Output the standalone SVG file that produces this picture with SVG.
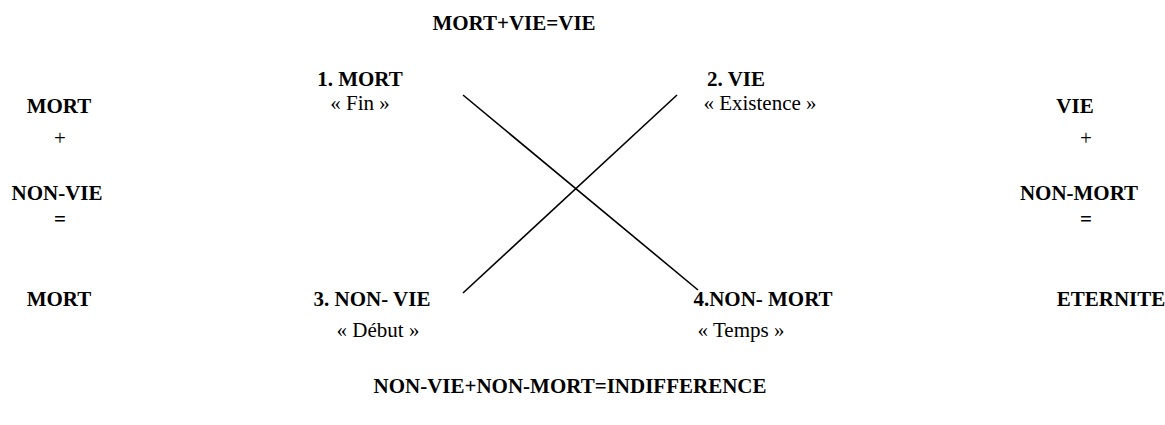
<svg xmlns="http://www.w3.org/2000/svg" width="1165" height="425" viewBox="0 0 1165 425">
<style>
text{font-family:"Liberation Serif","Times New Roman",Times,serif;font-size:21px;fill:#000;text-anchor:middle}
.b{font-weight:bold}
.line{stroke:#000;stroke-width:1.6;fill:none}
</style>
<rect width="1165" height="425" fill="#fff"/>
<g id="top-formula"><text class="b" x="514" y="30">MORT+VIE=VIE</text></g>
<g id="left-column">
<text class="b" x="59" y="113">MORT</text>
<text x="60" y="145">+</text>
<text class="b" x="57" y="200">NON-VIE</text>
<text class="b" x="60" y="226">=</text>
<text class="b" x="59" y="306">MORT</text>
</g>
<g id="node-1"><text class="b" x="360" y="86">1. MORT</text><text x="360" y="110">« Fin »</text></g>
<g id="node-2"><text class="b" x="736" y="86">2. VIE</text><text x="760" y="110">« Existence »</text></g>
<g id="node-3"><text class="b" x="372" y="306">3. NON- VIE</text><text x="378" y="337">« Début »</text></g>
<g id="node-4"><text class="b" x="763" y="306">4.NON- MORT</text><text x="741" y="337">« Temps »</text></g>
<g id="right-column">
<text class="b" x="1075" y="113">VIE</text>
<text x="1086" y="145">+</text>
<text class="b" x="1079" y="200">NON-MORT</text>
<text class="b" x="1086" y="226">=</text>
<text class="b" x="1111" y="306">ETERNITE</text>
</g>
<g id="bottom-formula"><text class="b" x="570" y="393">NON-VIE+NON-MORT=INDIFFERENCE</text></g>
<g id="connectors">
<line class="line" x1="463" y1="95" x2="698" y2="290"/>
<line class="line" x1="463" y1="293" x2="677" y2="95"/>
</g>
</svg>
